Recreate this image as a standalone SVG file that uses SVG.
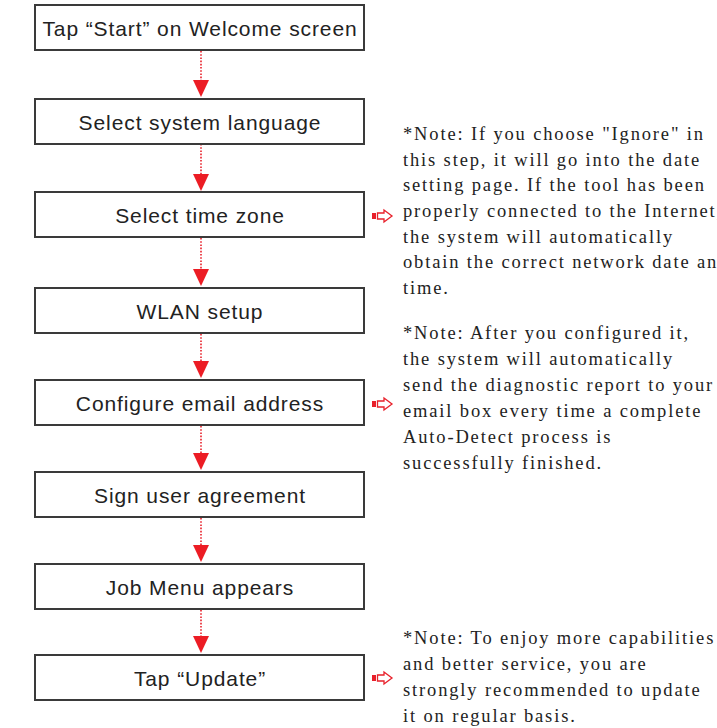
<svg xmlns="http://www.w3.org/2000/svg" width="717" height="728" viewBox="0 0 717 728">
<style>
.box{fill:#fff;stroke:#3a3a3a;stroke-width:2}
.lbl{font-family:"Liberation Sans",Arial,sans-serif;font-size:21px;fill:#222;text-anchor:middle;letter-spacing:0.9px}
.note{font-family:"Liberation Serif","Times New Roman",serif;font-size:18.5px;fill:#222;letter-spacing:1.85px}
.conn{stroke:#e8202a;stroke-width:1.6;stroke-dasharray:1.6 1.6;fill:none}
.head{fill:#ec1c24}
.pt{fill:#fff;stroke:#e8202a;stroke-width:1.3}
.pf{fill:#e8202a}
</style>
<rect width="717" height="728" fill="#fff"/>
<g id="connectors">
<line class="conn" x1="201" y1="51" x2="201" y2="81"/><polygon class="head" points="193,80 209,80 201,97"/>
<line class="conn" x1="201" y1="144" x2="201" y2="175"/><polygon class="head" points="193,174 209,174 201,191"/>
<line class="conn" x1="201" y1="238" x2="201" y2="270"/><polygon class="head" points="193,269 209,269 201,286"/>
<line class="conn" x1="201" y1="334" x2="201" y2="362"/><polygon class="head" points="193,361 209,361 201,378"/>
<line class="conn" x1="201" y1="426" x2="201" y2="454"/><polygon class="head" points="193,453 209,453 201,470"/>
<line class="conn" x1="201" y1="518" x2="201" y2="546"/><polygon class="head" points="193,545 209,545 201,562"/>
<line class="conn" x1="201" y1="610" x2="201" y2="637"/><polygon class="head" points="193,636 209,636 201,653"/>
<g id="ptr1"><rect class="pf" x="372" y="213" width="4" height="6"/><polygon class="pt" points="377.5,213 384,213 384,210 392,216 384,222 384,219 377.5,219"/></g>
<g id="ptr2"><rect class="pf" x="372" y="401" width="4" height="6"/><polygon class="pt" points="377.5,401 384,401 384,398 392,404 384,410 384,407 377.5,407"/></g>
<g id="ptr3"><rect class="pf" x="372" y="675" width="4" height="6"/><polygon class="pt" points="377.5,675 384,675 384,672 392,678 384,684 384,681 377.5,681"/></g>
</g>
<g id="n1"><rect class="box" x="35" y="5" width="329" height="45"/><text class="lbl" x="200" y="36">Tap “Start” on Welcome screen</text></g>
<g id="n2"><rect class="box" x="35" y="99" width="329" height="45"/><text class="lbl" x="200" y="130">Select system language</text></g>
<g id="n3"><rect class="box" x="35" y="192" width="329" height="45"/><text class="lbl" x="200" y="223">Select time zone</text></g>
<g id="n4"><rect class="box" x="35" y="288" width="329" height="45"/><text class="lbl" x="200" y="319">WLAN setup</text></g>
<g id="n5"><rect class="box" x="35" y="380" width="329" height="45"/><text class="lbl" x="200" y="411">Configure email address</text></g>
<g id="n6"><rect class="box" x="35" y="472" width="329" height="45"/><text class="lbl" x="200" y="503">Sign user agreement</text></g>
<g id="n7"><rect class="box" x="35" y="564" width="329" height="45"/><text class="lbl" x="200" y="595">Job Menu appears</text></g>
<g id="n8"><rect class="box" x="35" y="655" width="329" height="45"/><text class="lbl" x="200" y="686">Tap “Update”</text></g>
<g id="note1"><text class="note">
<tspan x="403" y="140">*Note: If you choose "Ignore" in</tspan>
<tspan x="403" y="166">this step, it will go into the date</tspan>
<tspan x="403" y="191">setting page. If the tool has been</tspan>
<tspan x="403" y="217">properly connected to the Internet,</tspan>
<tspan x="403" y="243">the system will automatically</tspan>
<tspan x="403" y="268">obtain the correct network date and</tspan>
<tspan x="403" y="294">time.</tspan>
</text></g>
<g id="note2"><text class="note">
<tspan x="403" y="339">*Note: After you configured it,</tspan>
<tspan x="403" y="365">the system will automatically</tspan>
<tspan x="403" y="391">send the diagnostic report to your</tspan>
<tspan x="403" y="417">email box every time a complete</tspan>
<tspan x="403" y="443">Auto-Detect process is</tspan>
<tspan x="403" y="469">successfully finished.</tspan>
</text></g>
<g id="note3"><text class="note">
<tspan x="403" y="644">*Note: To enjoy more capabilities</tspan>
<tspan x="403" y="670">and better service, you are</tspan>
<tspan x="403" y="696">strongly recommended to update</tspan>
<tspan x="403" y="722">it on regular basis.</tspan>
</text></g>
</svg>
